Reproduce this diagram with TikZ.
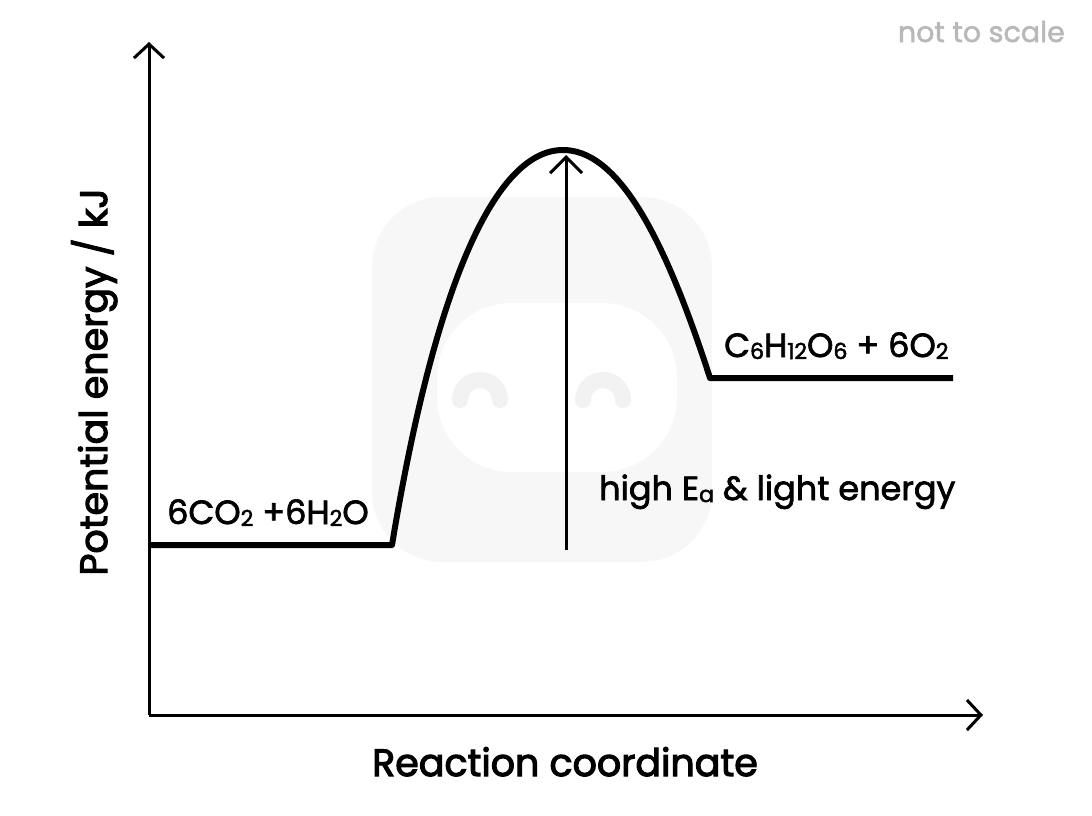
\documentclass[tikz,border=0pt]{standalone}
\usepackage{fontspec}
\setmainfont{Poppins}
\usetikzlibrary{arrows.meta}
\newcommand\sbs[1]{\raisebox{-0.06em}{\scalebox{0.66}{#1}}}
\newcommand\emb[2]{\special{pdf:literal direct #1 w 2 Tr}#2\special{pdf:literal direct 0 Tr}}
\definecolor{wmgrey}{HTML}{F7F7F7}
\definecolor{wmeye}{HTML}{F2F2F2}
\definecolor{notegrey}{HTML}{B8B8B8}
\tikzset{
  axis/.style={line width=3pt, -{Straight Barb[length=14pt,width=30pt,line width=3pt]}},
  curve/.style={line width=6pt, line join=round},
  eaarrow/.style={line width=3pt, -{Straight Barb[length=16pt,width=32pt,line width=3pt]}},
  lab/.style={font=\fontsize{33.5}{38}\selectfont, inner sep=0pt},
  title/.style={font=\fontsize{38}{42}\selectfont, inner sep=0pt},
}
\begin{document}
\begin{tikzpicture}[x=1pt,y=-1pt]
\useasboundingbox (0,0) rectangle (1092,815);
% watermark
\fill[wmgrey, rounded corners=70pt] (372,197) rectangle (712,562);
\fill[white, rounded corners=75pt] (437,303) rectangle (677,472);
\draw[wmeye, line width=16pt, line cap=round] (460,400) arc[start angle=180, end angle=360, radius=20];
\draw[wmeye, line width=16pt, line cap=round] (583,400) arc[start angle=180, end angle=360, radius=20];
% coordinates
\coordinate (O) at (149,715);
\coordinate (ytop) at (149,42);
\coordinate (xend) at (983,715);
\coordinate (L0) at (149,545);
\coordinate (L1) at (392,545);
\coordinate (P) at (563,150);
\coordinate (R0) at (710,378);
\coordinate (R1) at (953,378);
\coordinate (Abot) at (566,550);
\coordinate (Atop) at (566,155);
% axes
\draw[axis] (O) -- (ytop);
\draw[axis] (O) -- (xend);
% profile
\draw[curve] (L0) -- (L1) .. controls (435,285) and (495,150) .. (P)
  .. controls (615,150) and (661,226) .. (R0) -- (R1);
% Ea arrow
\draw[eaarrow] (Abot) -- (Atop);
% labels
\node[lab, anchor=base west] (react) at (167,524) {\emb{0.7}{6CO\sbs{2} +6H\sbs{2}O}};
\node[lab, anchor=base west] (prod) at (724,357) {\emb{0.7}{C\sbs{6}H\sbs{12}O\sbs{6} + 6O\sbs{2}}};
\node[lab, anchor=base west] (ea) at (599,500) {\emb{0.7}{high E\sbs{a} \& light energy}};
\node[title, anchor=base] (xlab) at (565,776) {\emb{1.1}{Reaction coordinate}};
\node[title, anchor=base, rotate=90] (ylab) at (107,382) {\emb{1.1}{Potential energy / kJ}};
\node[inner sep=0pt, anchor=base east, text=notegrey, font=\fontsize{28.5}{30}\selectfont] (note) at (1065,42) {\emb{0.5}{not to scale}};
\end{tikzpicture}
\end{document}
